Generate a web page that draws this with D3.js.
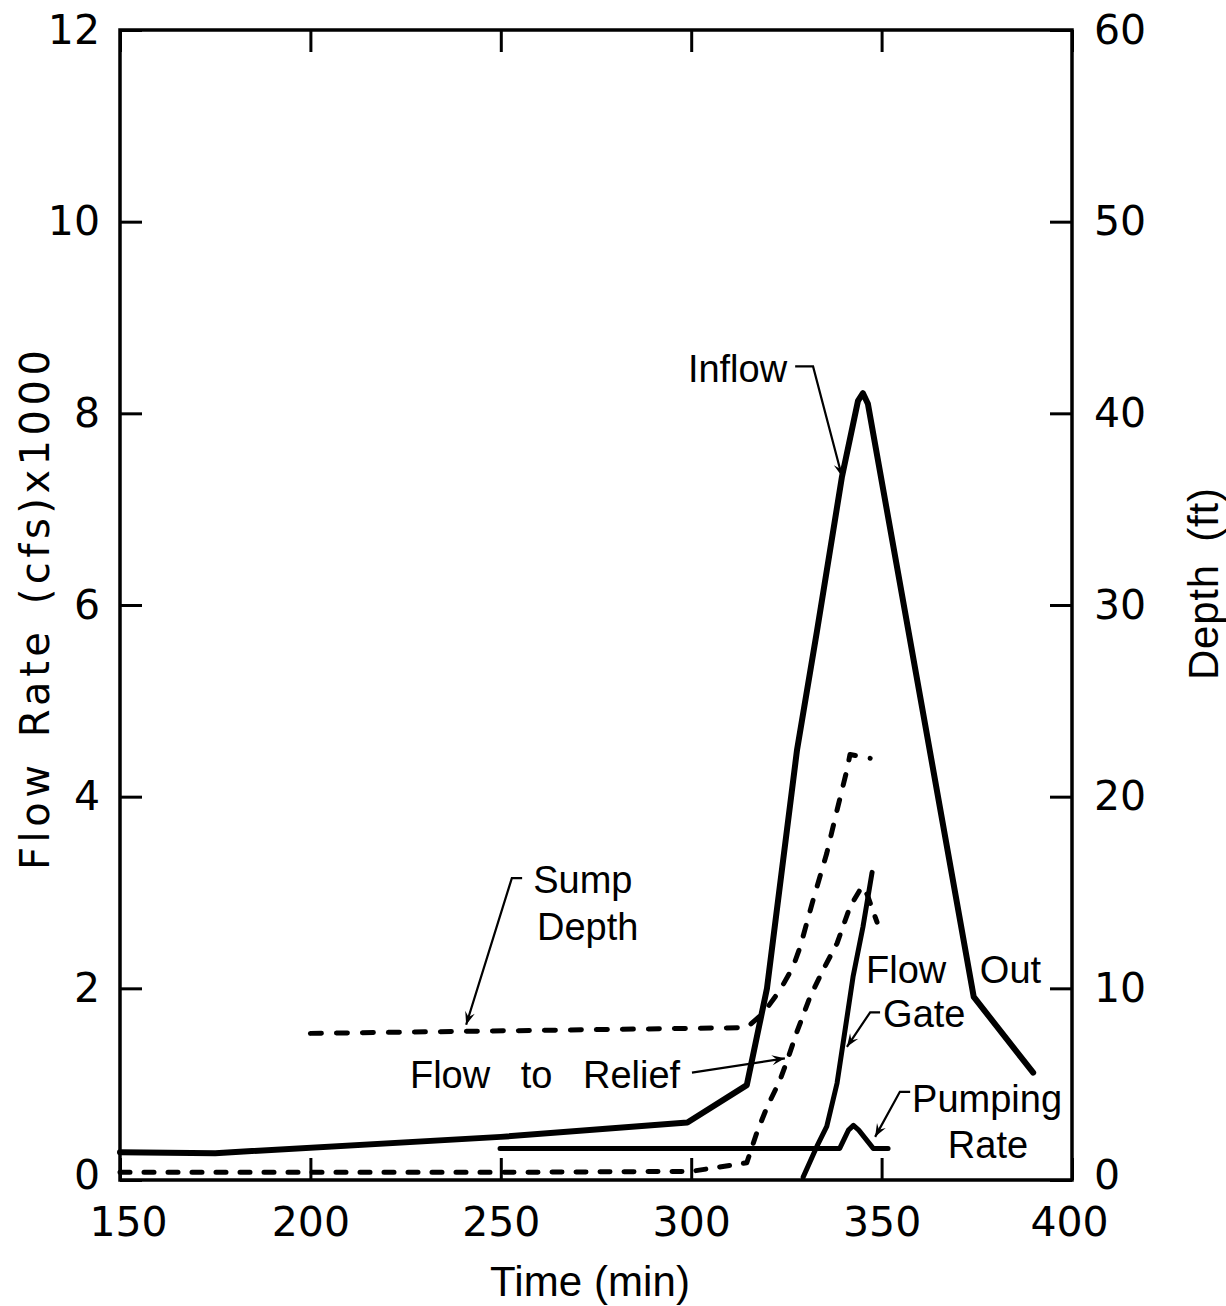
<!DOCTYPE html>
<html>
<head>
<meta charset="utf-8">
<script src="https://cdn.jsdelivr.net/npm/d3@7"></script>
<style>
  body { margin: 0; background: #fff; }
  svg { font-family: "Liberation Sans", Arial, sans-serif; }
</style>
</head>
<body>
<svg id="chart" width="1226" height="1306"></svg>
<script>
// tick values
const timeTicks = [150, 200, 250, 300, 350, 400];
const flowTicks = [0, 2, 4, 6, 8, 10, 12];
const depthTicks = [0, 10, 20, 30, 40, 50, 60];

// Inflow (cfs x 1000)
const inflowTime = [150, 175, 250, 299, 314.6, 319.9, 327.8, 333, 339.6, 343.8, 345.1, 346.4, 374.2, 389.8];
const inflowQ    = [0.29, 0.28, 0.45, 0.6, 0.99, 2.0, 4.49, 5.72, 7.34, 8.13, 8.21, 8.1, 1.91, 1.12];

// Pumping rate (cfs x 1000)
const pumpTime = [249.8, 339, 341.3, 342.6, 344, 347.8, 351.7];
const pumpQ    = [0.33, 0.33, 0.52, 0.57, 0.52, 0.33, 0.33];

// Flow out gate (cfs x 1000)
const gateTime = [329.4, 333, 335.6, 338.3, 339.9, 342.5, 345.1, 347.5];
const gateQ    = [0.03, 0.35, 0.56, 1.01, 1.43, 2.12, 2.64, 3.21];

// Flow to relief (cfs x 1000)
const reliefTime = [150, 200, 250, 300, 314.6, 317.2, 319.9, 323.3, 325.5, 327.8, 331.2, 334.6, 338.3, 341.7, 344.8, 346.2, 348.8];
const reliefQ    = [0.08, 0.08, 0.08, 0.09, 0.18, 0.49, 0.76, 1.04, 1.28, 1.55, 1.91, 2.19, 2.47, 2.85, 3.06, 2.98, 2.69];

// Sump depth (ft)
const sumpTime  = [200, 314.6, 318.9, 323.3, 326.7, 328.6, 332, 335.6, 338.3, 340.9, 341.7, 347];
const sumpDepth = [7.65, 7.95, 8.7, 9.9, 11.1, 12.15, 14.6, 17.05, 19.3, 21.4, 22.2, 22.0];

const margin = { top: 30, right: 154, bottom: 126, left: 120 };
const width = 1226, height = 1306;

const svg = d3.select("#chart");

const x = d3.scaleLinear().domain([150, 400]).range([margin.left, width - margin.right]);
const y = d3.scaleLinear().domain([0, 12]).range([height - margin.bottom, margin.top]);
const y2 = d3.scaleLinear().domain([0, 60]).range([height - margin.bottom, margin.top]);

const pts = (t, v) => t.map((d, i) => [d, v[i]]);

// arrow marker
svg.append("defs").append("marker")
    .attr("id", "arrow")
    .attr("viewBox", "-14 -6 16 12")
    .attr("markerWidth", 16)
    .attr("markerHeight", 12)
    .attr("markerUnits", "userSpaceOnUse")
    .attr("orient", "auto")
    .append("path")
    .attr("d", "M-13,-5 L0,0 L-13,5 L-8,0 Z")
    .attr("fill", "#000");

// axes
const tickStyle = g => {
    g.select(".domain").remove();
    g.selectAll(".tick line").attr("stroke", "#000").attr("stroke-width", 3);
    g.selectAll(".tick text").attr("fill", "#000")
        .attr("font-family", "'DejaVu Sans', sans-serif").attr("font-size", 41);
};

const xAxisG = svg.append("g")
    .attr("transform", `translate(0,${y(0)})`)
    .call(d3.axisBottom(x).tickValues(timeTicks).tickSizeInner(-22).tickPadding(27))
    .call(tickStyle);
// first label sits a little right of its tick, clear of the "0"
xAxisG.selectAll(".tick text").attr("dx", d => d === 150 ? 8 : d === 400 ? -3 : 0);

svg.append("g")
    .attr("transform", `translate(0,${y(12)})`)
    .call(d3.axisTop(x).tickValues(timeTicks).tickSizeInner(-22).tickFormat(""))
    .call(tickStyle);

svg.append("g")
    .attr("transform", `translate(${x(150)},0)`)
    .call(d3.axisLeft(y).tickValues(flowTicks).tickSizeInner(-22).tickPadding(20))
    .call(tickStyle)
    .selectAll(".tick text").attr("dy", d => d === 0 ? "0.2em" : "0.32em");

svg.append("g")
    .attr("transform", `translate(${x(400)},0)`)
    .call(d3.axisRight(y2).tickValues(depthTicks).tickSizeInner(-22).tickPadding(22))
    .call(tickStyle)
    .selectAll(".tick text").attr("dy", d => d === 0 ? "0.2em" : "0.32em");

// frame
svg.append("rect")
    .attr("x", x(150)).attr("y", y(12))
    .attr("width", x(400) - x(150)).attr("height", y(0) - y(12))
    .attr("fill", "none").attr("stroke", "#000").attr("stroke-width", 3.5);

// axis titles
svg.append("text")
    .attr("x", 590).attr("y", 1296)
    .attr("text-anchor", "middle").attr("font-size", 42)
    .attr("textLength", 200).attr("lengthAdjust", "spacing")
    .text("Time (min)");

svg.append("text")
    .attr("transform", "translate(49,610) rotate(-90)")
    .attr("text-anchor", "middle").attr("font-size", 40)
    .attr("font-family", "'DejaVu Sans', sans-serif")
    .style("word-spacing", "6px")
    .attr("textLength", 520).attr("lengthAdjust", "spacing")
    .text("Flow Rate (cfs)x1000");

svg.append("text")
    .attr("transform", "translate(1218,584) rotate(-90)")
    .attr("text-anchor", "middle").attr("font-size", 42)
    .style("word-spacing", "10px")
    .attr("textLength", 192).attr("lengthAdjust", "spacing")
    .text("Depth (ft)");

// series
const lineFlow = d3.line().x(d => x(d[0])).y(d => y(d[1]));
const lineDepth = d3.line().x(d => x(d[0])).y(d => y2(d[1]));

const plot = svg.append("g").attr("fill", "none").attr("stroke", "#000")
    .attr("stroke-linejoin", "round").attr("stroke-linecap", "round");

plot.append("path").attr("d", lineFlow(pts(inflowTime, inflowQ))).attr("stroke-width", 6);
plot.append("path").attr("d", lineFlow(pts(pumpTime, pumpQ))).attr("stroke-width", 5);
plot.append("path").attr("d", lineFlow(pts(gateTime, gateQ))).attr("stroke-width", 5);
plot.append("path").attr("d", lineFlow(pts(reliefTime, reliefQ)))
    .attr("stroke-width", 5).attr("stroke-dasharray", "10,14");
plot.append("path").attr("d", lineDepth(pts(sumpTime, sumpDepth)))
    .attr("stroke-width", 5).attr("stroke-dasharray", "11,15");

// annotations: text in data coords, leader polylines ending in arrows
const labels = [
    { t: 325.2, v: 8.33, text: "Inflow", anchor: "end" },
    { t: 258.5, v: 3.0, text: "Sump", anchor: "start" },
    { t: 259.5, v: 2.5, text: "Depth", anchor: "start" },
    { t: 297.1, v: 0.96, text: "Flow to Relief", anchor: "end", ws: 20 },
    { t: 345.9, v: 2.06, text: "Flow", anchor: "start" },
    { t: 375.8, v: 2.06, text: "Out", anchor: "start" },
    { t: 350.4, v: 1.60, text: "Gate", anchor: "start" },
    { t: 358.0, v: 0.71, text: "Pumping", anchor: "start" },
    { t: 367.4, v: 0.23, text: "Rate", anchor: "start" }
];

const leaders = [
    [[327.3, 8.49], [332.0, 8.49], [339.6, 7.34]],
    [[255.6, 3.15], [252.9, 3.15], [240.9, 1.62]],
    [[300.2, 1.12], [324.6, 1.27]],
    [[349.6, 1.75], [347.0, 1.75], [340.9, 1.39]],
    [[357.5, 0.92], [354.8, 0.92], [348.3, 0.45]]
];

svg.append("g").selectAll("text")
    .data(labels)
    .join("text")
    .attr("x", d => x(d.t)).attr("y", d => y(d.v))
    .attr("text-anchor", d => d.anchor)
    .attr("font-size", 38)
    .style("word-spacing", d => d.ws ? d.ws + "px" : null)
    .text(d => d.text);

svg.append("g").selectAll("path")
    .data(leaders)
    .join("path")
    .attr("d", d => lineFlow(d))
    .attr("fill", "none").attr("stroke", "#000").attr("stroke-width", 2.2)
    .attr("marker-end", "url(#arrow)");
</script>
</body>
</html>
